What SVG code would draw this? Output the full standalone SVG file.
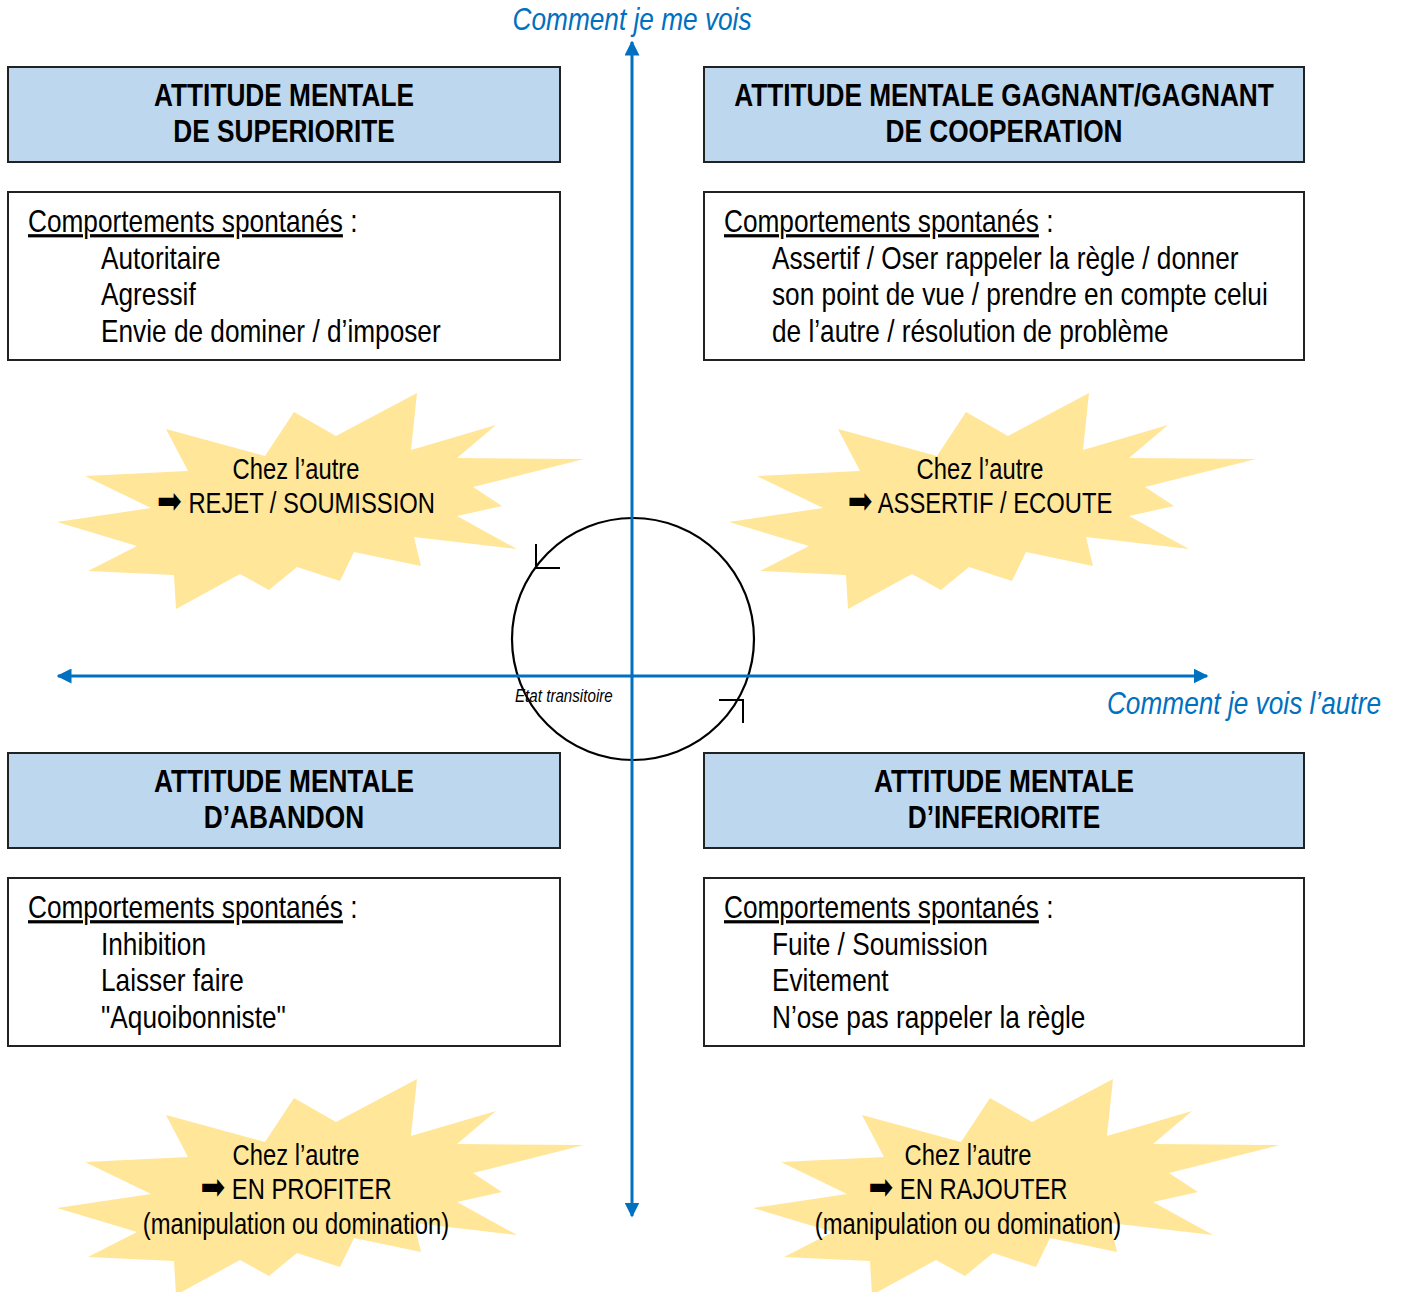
<svg xmlns="http://www.w3.org/2000/svg" width="1401" height="1292" viewBox="0 0 1401 1292">
<style>
  text { font-family: 'Liberation Sans', Arial, sans-serif; fill: #000; transform-box: fill-box; transform: scaleX(0.82); }
  .l { transform-origin: left center; }
  .c { transform-origin: center; }
  .r { transform-origin: right center; }
  .hdr { fill: #BDD7EE; stroke: #222; stroke-width: 2; }
  .box { fill: #FFFFFF; stroke: #222; stroke-width: 2; }
  .htxt { font-size: 32px; font-weight: bold; text-anchor: middle; }
  .btxt { font-size: 32px; }
  .stxt { font-size: 29px; text-anchor: middle; }
  .arw { font-family: 'DejaVu Sans', sans-serif; font-size: 36px; }
  .burst { fill: #FFE699; }
  .axis { stroke: #0070C0; stroke-width: 3; fill: none; }
  .alabel { font-size: 32px; font-style: italic; fill: #0070C0; }
  .u { text-decoration: underline; }
</style>
<defs>
  <polygon id="burstShape" points="417,393 411,450 496,425 457,458 584,459 473,487 502,506 457,516 517,549 414,537 421,566 354,552 340,581 297,567 269,590 240,574 176,609 174,575 88,571 137,546 57,522 151,508 85,476 188,471 166,429 265,456 294,412 336,436"/>
  <marker id="ah" viewBox="0 0 10 10" refX="9" refY="5" markerWidth="5" markerHeight="5" orient="auto-start-reverse" markerUnits="strokeWidth">
    <path d="M0,0 L10,5 L0,10 z" fill="#0070C0"/>
  </marker>
</defs>

<g id="burst-tl">
  <use href="#burstShape" class="burst"/>
  <text class="stxt c" x="296" y="479">Chez l’autre</text>
  <text class="stxt c" x="296" y="513"><tspan class="arw">➡</tspan> REJET / SOUMISSION</text>
</g>
<g id="burst-tr">
  <use href="#burstShape" class="burst" transform="translate(672,0)"/>
  <text class="stxt c" x="980" y="479">Chez l’autre</text>
  <text class="stxt c" x="980" y="513"><tspan class="arw">➡</tspan> ASSERTIF / ECOUTE</text>
</g>
<g id="burst-bl">
  <use href="#burstShape" class="burst" transform="translate(0,686)"/>
  <text class="stxt c" x="296" y="1165">Chez l’autre</text>
  <text class="stxt c" x="296" y="1199"><tspan class="arw">➡</tspan> EN PROFITER</text>
  <text class="stxt c" x="296" y="1234">(manipulation ou domination)</text>
</g>
<g id="burst-br">
  <use href="#burstShape" class="burst" transform="translate(696,686)"/>
  <text class="stxt c" x="968" y="1165">Chez l’autre</text>
  <text class="stxt c" x="968" y="1199"><tspan class="arw">➡</tspan> EN RAJOUTER</text>
  <text class="stxt c" x="968" y="1234">(manipulation ou domination)</text>
</g>

<g id="cycle">
  <circle cx="633" cy="639" r="121" fill="none" stroke="#000" stroke-width="2.2"/>
  <path d="M536,544 L536,568 L560,568" fill="none" stroke="#000" stroke-width="2"/>
  <path d="M719,700 L743,700 L743,723" fill="none" stroke="#000" stroke-width="2"/>
</g>

<g id="connectors">
  <line class="axis" x1="632" y1="1216" x2="632" y2="42" marker-start="url(#ah)" marker-end="url(#ah)"/>
  <line class="axis" x1="58" y1="676" x2="1207" y2="676" marker-start="url(#ah)" marker-end="url(#ah)"/>
</g>

<text id="label-etat" class="l" x="515" y="702" style="font-size:18.5px;font-style:italic;">Etat transitoire</text>
<text id="label-vois" class="alabel c" x="632" y="30" text-anchor="middle">Comment je me vois</text>
<text id="label-autre" class="alabel r" x="1381" y="714" text-anchor="end">Comment je vois l’autre</text>

<g id="hdr-tl">
  <rect class="hdr" x="8" y="67" width="552" height="95"/>
  <text class="htxt c" x="284" y="106">ATTITUDE MENTALE</text>
  <text class="htxt c" x="284" y="142">DE SUPERIORITE</text>
</g>
<g id="box-tl">
  <rect class="box" x="8" y="192" width="552" height="168"/>
  <text class="btxt l" x="28" y="232"><tspan class="u">Comportements spontanés</tspan> :</text>
  <text class="btxt l" x="101" y="269">Autoritaire</text>
  <text class="btxt l" x="101" y="305">Agressif</text>
  <text class="btxt l" x="101" y="342">Envie de dominer / d’imposer</text>
</g>

<g id="hdr-tr">
  <rect class="hdr" x="704" y="67" width="600" height="95"/>
  <text class="htxt c" x="1004" y="106">ATTITUDE MENTALE GAGNANT/GAGNANT</text>
  <text class="htxt c" x="1004" y="142">DE COOPERATION</text>
</g>
<g id="box-tr">
  <rect class="box" x="704" y="192" width="600" height="168"/>
  <text class="btxt l" x="724" y="232"><tspan class="u">Comportements spontanés</tspan> :</text>
  <text class="btxt l" x="772" y="269">Assertif / Oser rappeler la règle / donner</text>
  <text class="btxt l" x="772" y="305">son point de vue / prendre en compte celui</text>
  <text class="btxt l" x="772" y="342">de l’autre / résolution de problème</text>
</g>

<g id="hdr-bl">
  <rect class="hdr" x="8" y="753" width="552" height="95"/>
  <text class="htxt c" x="284" y="792">ATTITUDE MENTALE</text>
  <text class="htxt c" x="284" y="828">D’ABANDON</text>
</g>
<g id="box-bl">
  <rect class="box" x="8" y="878" width="552" height="168"/>
  <text class="btxt l" x="28" y="918"><tspan class="u">Comportements spontanés</tspan> :</text>
  <text class="btxt l" x="101" y="955">Inhibition</text>
  <text class="btxt l" x="101" y="991">Laisser faire</text>
  <text class="btxt l" x="101" y="1028">"Aquoibonniste"</text>
</g>

<g id="hdr-br">
  <rect class="hdr" x="704" y="753" width="600" height="95"/>
  <text class="htxt c" x="1004" y="792">ATTITUDE MENTALE</text>
  <text class="htxt c" x="1004" y="828">D’INFERIORITE</text>
</g>
<g id="box-br">
  <rect class="box" x="704" y="878" width="600" height="168"/>
  <text class="btxt l" x="724" y="918"><tspan class="u">Comportements spontanés</tspan> :</text>
  <text class="btxt l" x="772" y="955">Fuite / Soumission</text>
  <text class="btxt l" x="772" y="991">Evitement</text>
  <text class="btxt l" x="772" y="1028">N’ose pas rappeler la règle</text>
</g>
</svg>
